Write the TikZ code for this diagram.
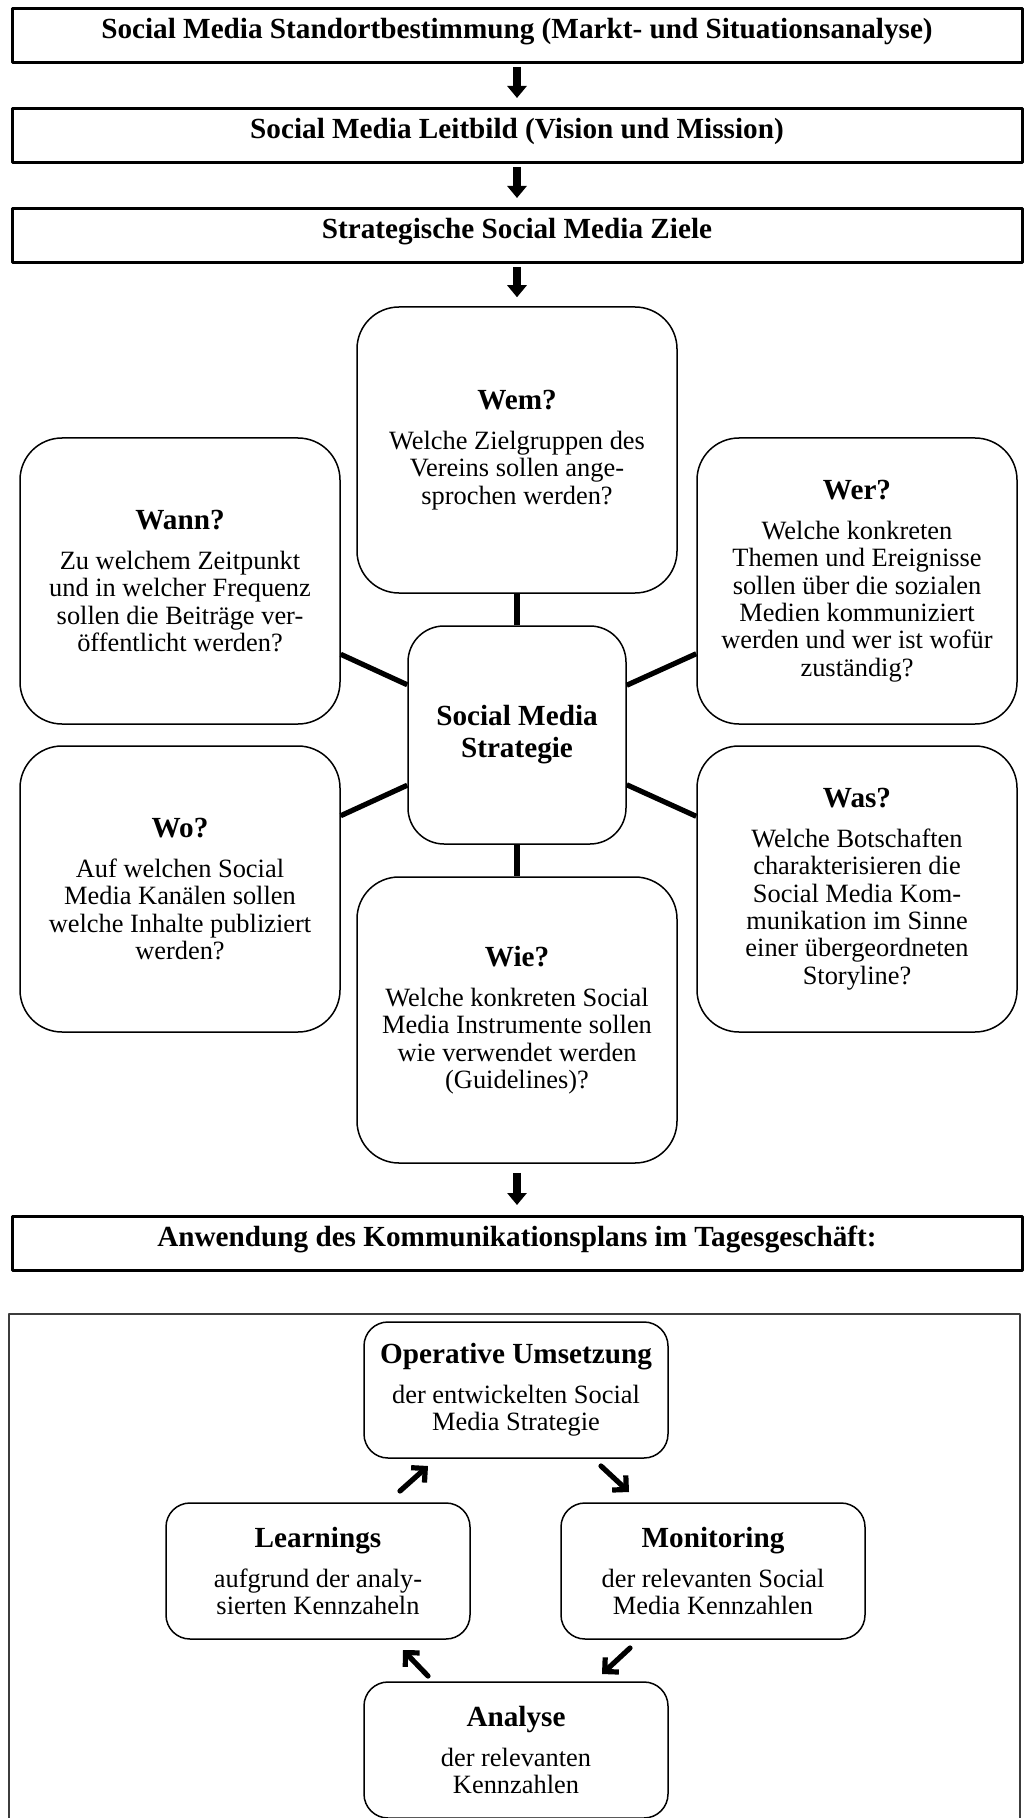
\documentclass[tikz,border=0pt]{standalone}
\usepackage{fontspec}
\setmainfont{Liberation Serif}
\usetikzlibrary{arrows.meta}
\newcommand{\Unit}{0.5pt}
\newcommand{\Frame}{1.5pt}
\newcommand{\Thin}{0.75pt}
\newcommand{\Spoke}{2.6pt}
\newcommand{\Gap}{6.3pt}
\newcommand{\headfont}{\fontsize{14.6}{16}\selectfont\bfseries}
\newcommand{\bodyfont}{\fontsize{13.2}{13.7}\selectfont}
\definecolor{ink}{HTML}{000000}
\definecolor{framegray}{HTML}{3C3C3C}

\begin{document}
\begin{tikzpicture}[x=\Unit,y=-\Unit, line join=round,
  widebox/.style={draw=ink, line width=\Frame, anchor=north, inner sep=0pt,
    minimum width=505pt, text height=15pt, text depth=12pt, font=\headfont},
  askbox/.style={draw=ink, line width=\Thin, rounded corners=21pt, align=center,
    minimum width=160pt, minimum height=143pt, inner sep=0pt, font=\bodyfont},
  hubbox/.style={draw=ink, line width=\Thin, rounded corners=18pt, align=center,
    minimum size=109pt, inner sep=0pt, font=\headfont},
  loopbox/.style={draw=ink, line width=\Thin, rounded corners=12pt, align=center,
    minimum width=152pt, minimum height=68pt, inner sep=0pt, font=\bodyfont},
  downarrow/.style={ink, line width=4pt, -{Triangle[width=9.5pt,length=6pt]},
    shorten <=1.5pt, shorten >=4.5pt},
  spoke/.style={ink, line width=\Spoke},
  looparrow/.style={ink, line width=2.6pt, line cap=round,
    -{Straight Barb[length=5pt,width=10pt]}}]

  \useasboundingbox (0,0) rectangle (1023,1818);

  % ---- the three steps at the top ------------------------------------------
  \node[widebox] (standort) at (517,7)
    {Social Media Standortbestimmung (Markt- und Situationsanalyse)};
  \node[widebox] (leitbild) at (517,107) {Social Media Leitbild (Vision und Mission)};
  \node[widebox] (ziele) at (517,207) {Strategische Social Media Ziele};
  \draw[downarrow] (standort) -- (leitbild);
  \draw[downarrow] (leitbild) -- (ziele);

  % ---- the strategy and its six questions ----------------------------------
  \node[hubbox] (hub) at (517,735) {Social Media\\Strategie};
  \node[askbox] (wem) at (517,450)
    {{\headfont Wem?}\\[\Gap]Welche Zielgruppen des\\Vereins sollen ange-\\sprochen werden?};
  \node[askbox] (wann) at (180,581)
    {{\headfont Wann?}\\[\Gap]Zu welchem Zeitpunkt\\und in welcher Frequenz\\sollen die Beitr\"age ver-\\\"offentlicht werden?};
  \node[askbox] (wer) at (857,581)
    {{\headfont Wer?}\\[\Gap]Welche konkreten\\Themen und Ereignisse\\sollen \"uber die sozialen\\Medien kommuniziert\\werden und wer ist wof\"ur\\zust\"andig?};
  \node[askbox] (wo) at (180,889)
    {{\headfont Wo?}\\[\Gap]Auf welchen Social\\Media Kan\"alen sollen\\welche Inhalte publiziert\\werden?};
  \node[askbox] (was) at (857,889)
    {{\headfont Was?}\\[\Gap]Welche Botschaften\\charakterisieren die\\Social Media Kom-\\munikation im Sinne\\einer \"ubergeordneten\\Storyline?};
  \node[askbox] (wie) at (517,1020)
    {{\headfont Wie?}\\[\Gap]Welche konkreten Social\\Media Instrumente sollen\\wie verwendet werden\\(Guidelines)?};
  % Spokes run centre to centre, so they leave the hub at a slant.
  \foreach \q in {wem,wann,wer,wo,was,wie}
    \draw[spoke] (hub) -- (\q);

  \draw[downarrow] (ziele) -- (wem);

  % ---- daily business ------------------------------------------------------
  \node[widebox] (anwendung) at (517,1215)
    {Anwendung des Kommunikationsplans im Tagesgesch\"aft:};
  \draw[downarrow, shorten <=4.5pt, shorten >=5pt] (wie) -- (anwendung);

  % The frame runs off the bottom of the page.
  \draw[framegray, line width=0.6pt] (9,1314) rectangle (1020,1840);

  \node[loopbox] (umsetzung) at (516,1390)
    {{\headfont Operative Umsetzung}\\[\Gap]der entwickelten Social\\Media Strategie};
  \node[loopbox] (learnings) at (318,1571)
    {{\headfont Learnings}\\[\Gap]aufgrund der analy-\\sierten Kennzaheln};
  \node[loopbox] (monitoring) at (713,1571)
    {{\headfont Monitoring}\\[\Gap]der relevanten Social\\Media Kennzahlen};
  \node[loopbox] (analyse) at (516,1750)
    {{\headfont Analyse}\\[\Gap]der relevanten\\Kennzahlen};

  % ---- the loop, four short arrows between the boxes -----------------------
  \coordinate (l1) at (400,1491); \coordinate (l2) at (428,1466);
  \coordinate (m1) at (601,1466); \coordinate (m2) at (629,1492);
  \coordinate (a1) at (630,1648); \coordinate (a2) at (602,1674);
  \coordinate (r1) at (428,1676); \coordinate (r2) at (403,1650);
  \draw[looparrow] (l1) -- (l2);
  \draw[looparrow] (m1) -- (m2);
  \draw[looparrow] (a1) -- (a2);
  \draw[looparrow] (r1) -- (r2);

\end{tikzpicture}
\end{document}
